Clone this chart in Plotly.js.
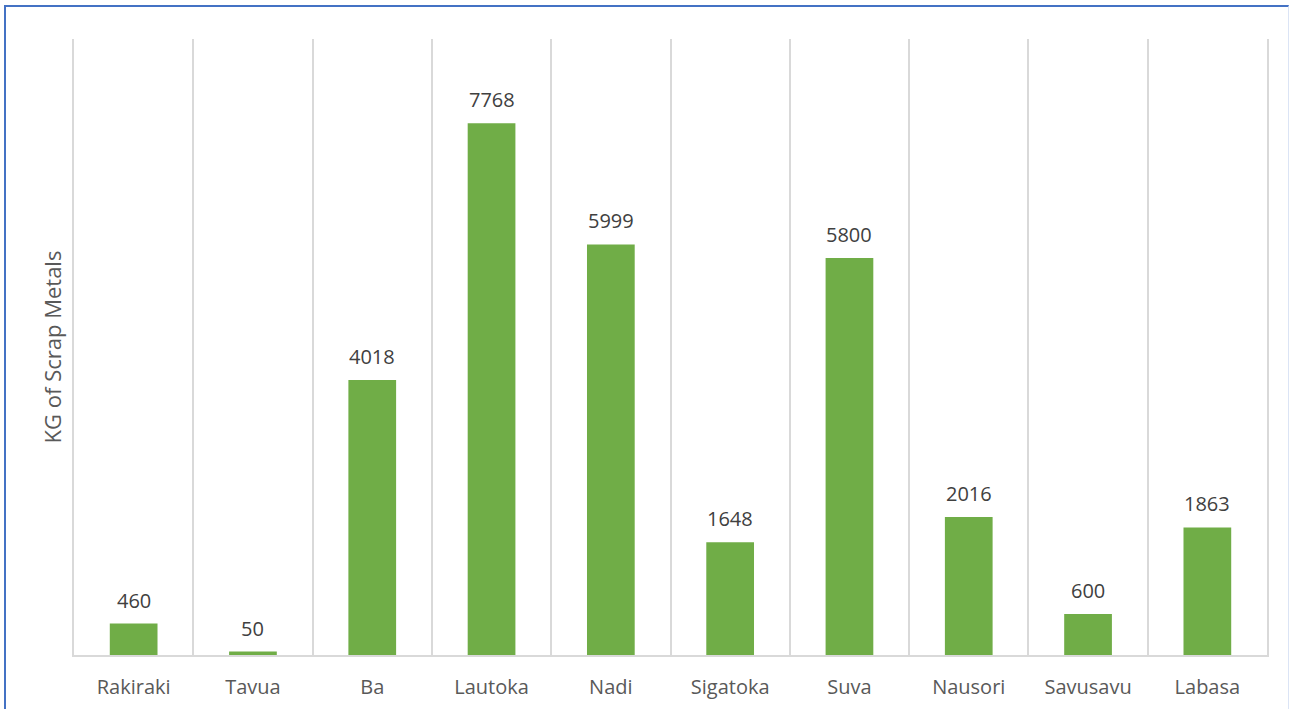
<!DOCTYPE html>
<html>
<head>
<meta charset="utf-8">
<script src="https://cdn.plot.ly/plotly-3.0.1.min.js"></script>
<style>
  body { margin: 0; background: #fff; }
  #chart { width: 1289px; height: 709px; }
  #frame {
    position: absolute; left: 4px; top: 5px; width: 1282px; height: 710px;
    border-top: 2px solid #4472c4; border-left: 2px solid #4472c4;
    border-right: 1px solid #dbe4f5; pointer-events: none;
  }
</style>
</head>
<body>
<div id="chart"></div>
<div id="frame"></div>
<script>
var towns = ['Rakiraki', 'Tavua', 'Ba', 'Lautoka', 'Nadi', 'Sigatoka', 'Suva', 'Nausori', 'Savusavu', 'Labasa']
var kgScrap = [460, 50, 4018, 7768, 5999, 1648, 5800, 2016, 600, 1863]

var labelFont = '"Open Sans", Lato, sans-serif'

var trace = {
  type: 'bar',
  x: towns,
  y: kgScrap,
  marker: { color: '#70ad47' },
  hoverinfo: 'x+y'
}

// value labels above each bar
var notes = towns.map(function (t, i) {
  return {
    x: t,
    y: kgScrap[i],
    text: String(kgScrap[i]),
    showarrow: false,
    yanchor: 'bottom',
    yshift: 8,
    font: { family: labelFont, size: 20, color: '#404040' }
  }
})

var layout = {
  width: 1289,
  height: 709,
  margin: { l: 74, r: 22, t: 39, b: 54 },
  paper_bgcolor: '#fff',
  plot_bgcolor: '#fff',
  bargap: 0.6,
  showlegend: false,
  xaxis: {
    type: 'category',
    tickson: 'boundaries',
    showgrid: true,
    gridcolor: '#d9d9d9',
    gridwidth: 2,
    showline: true,
    linecolor: '#d9d9d9',
    linewidth: 2,
    ticks: '',
    ticklabelstandoff: 13,
    tickfont: { family: labelFont, size: 20, color: '#595959' }
  },
  yaxis: {
    range: [0, 9000],
    showgrid: false,
    zeroline: false,
    showline: true,
    mirror: true,
    linecolor: '#d9d9d9',
    linewidth: 2,
    showticklabels: false,
    ticks: '',
    title: {
      text: 'KG of Scrap Metals',
      standoff: 4,
      font: { family: labelFont, size: 22, color: '#595959' }
    }
  },
  annotations: notes
}

Plotly.newPlot('chart', [trace], layout, { displayModeBar: false, staticPlot: true })
</script>
</body>
</html>
